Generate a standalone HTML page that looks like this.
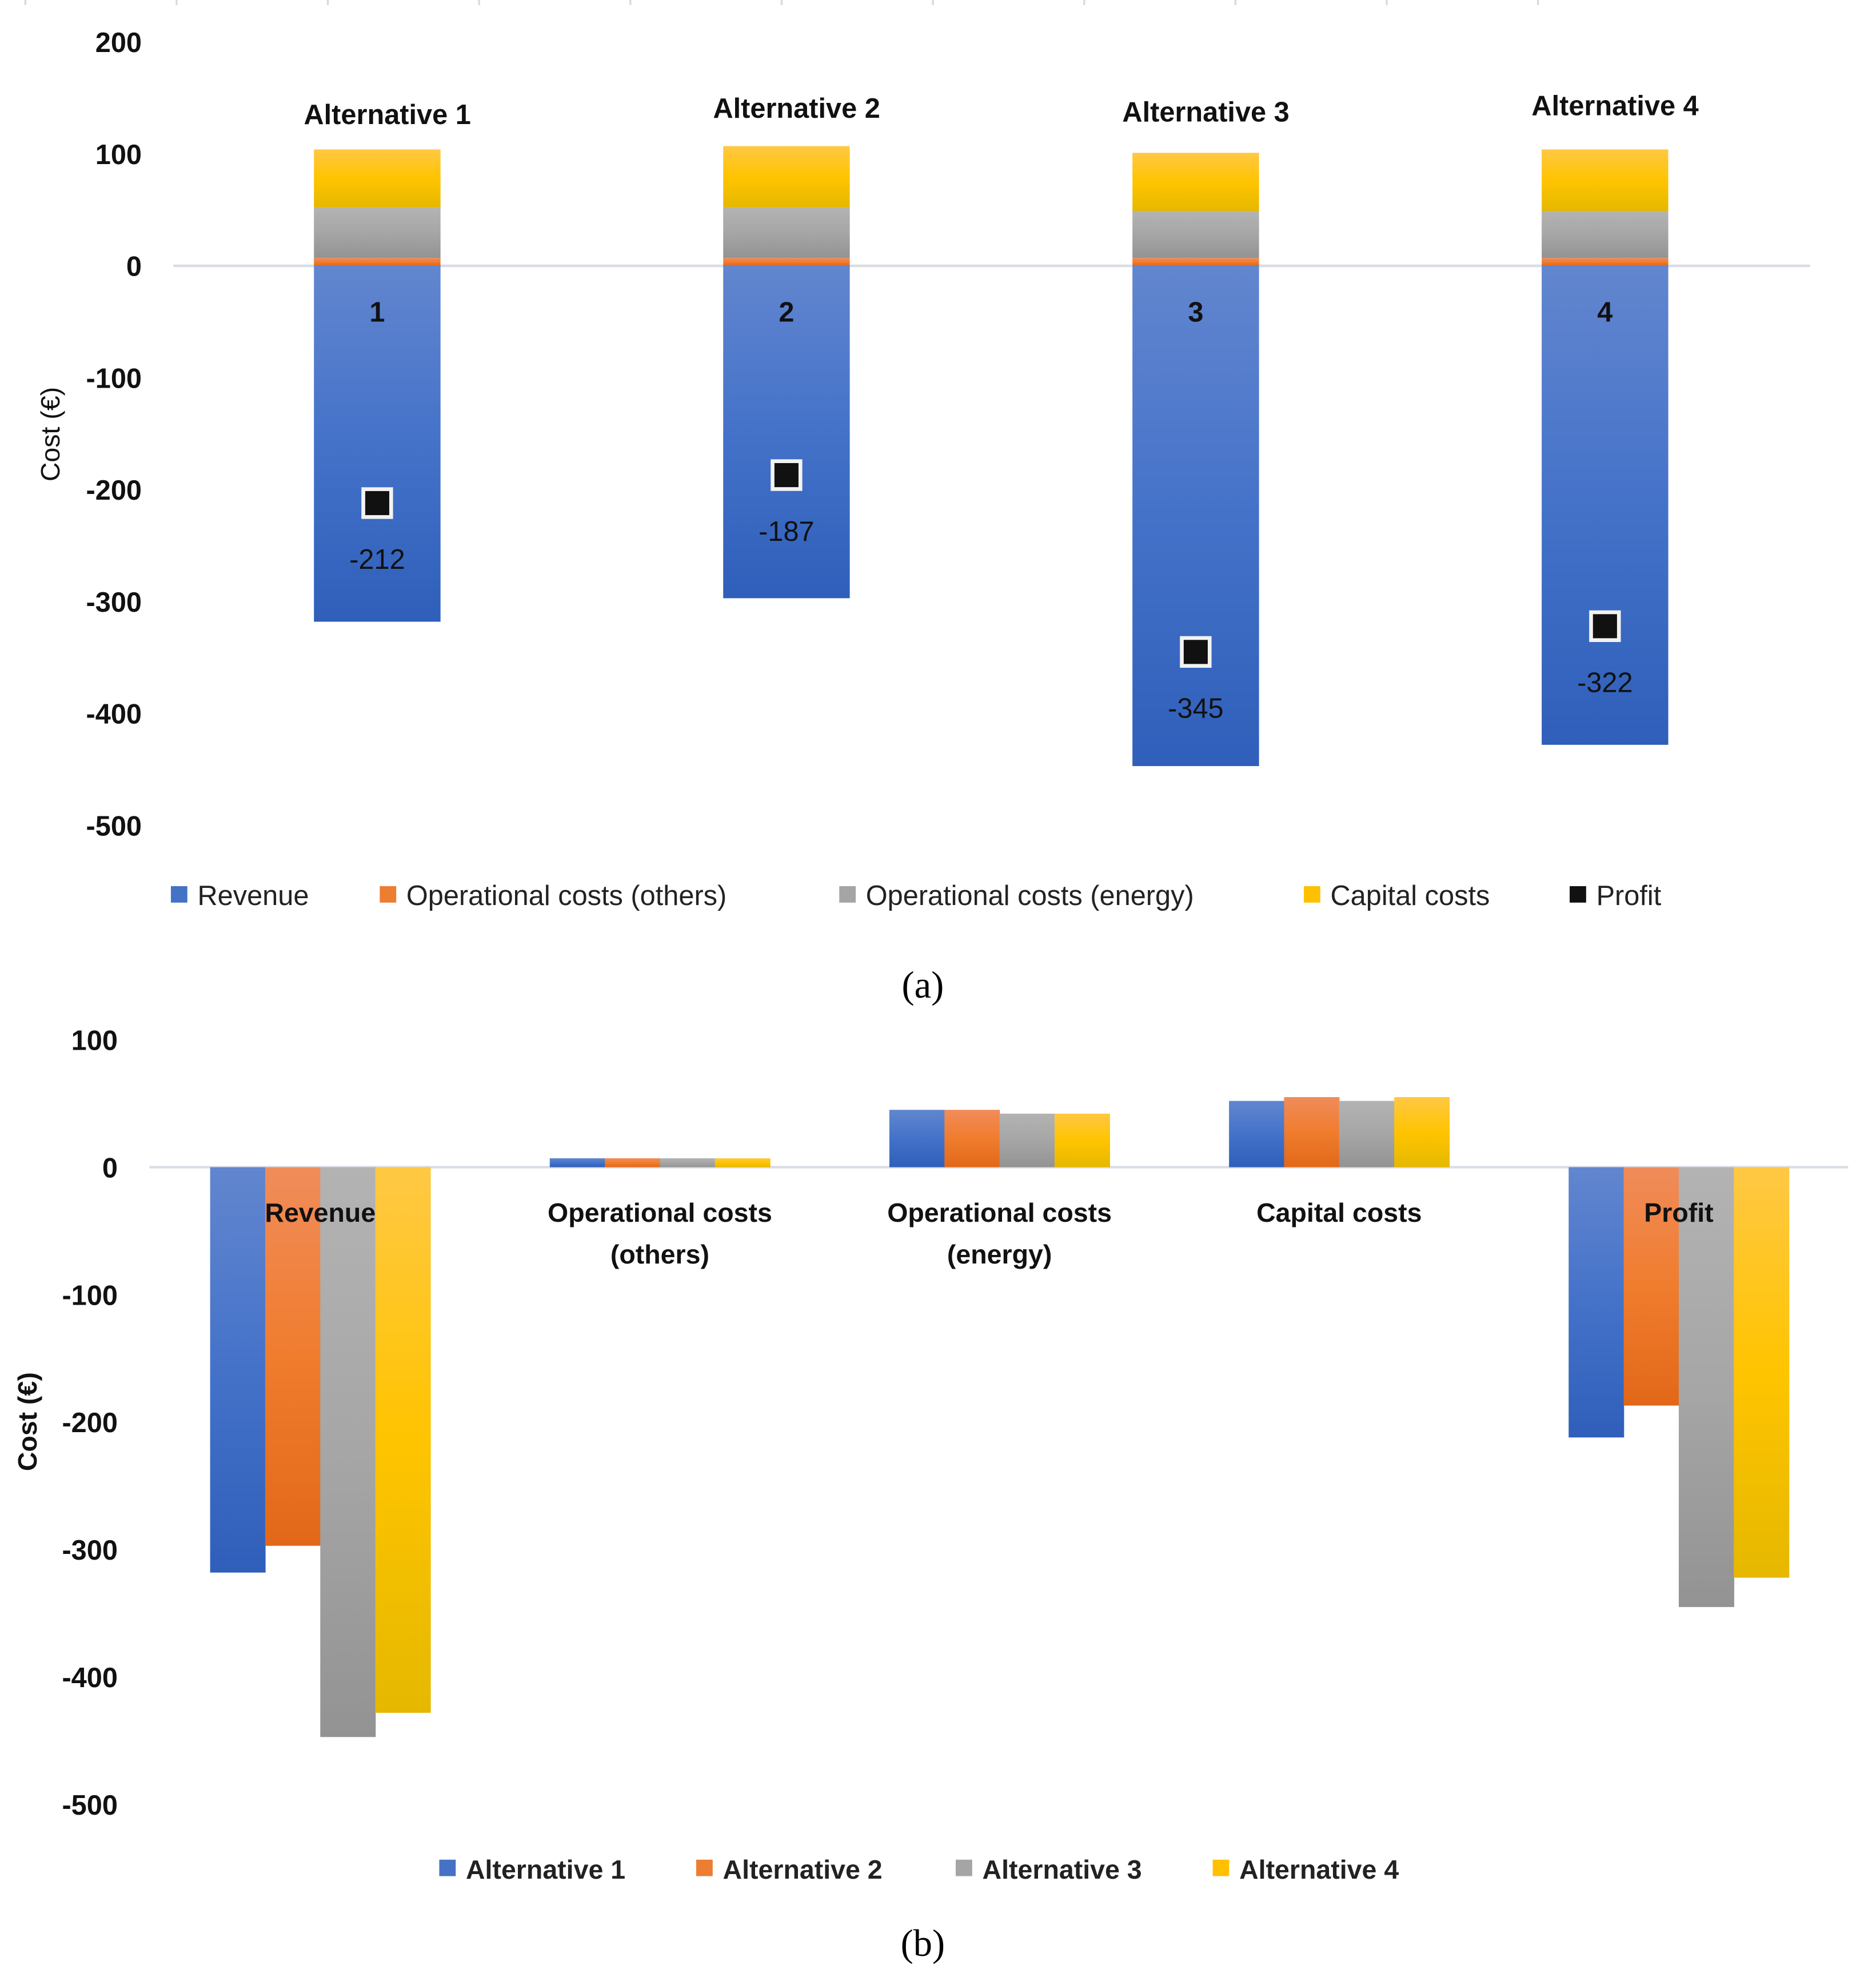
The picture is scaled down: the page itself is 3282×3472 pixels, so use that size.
<!DOCTYPE html>
<html><head><meta charset="utf-8">
<style>
html,body{margin:0;padding:0;background:#fff;}
svg{display:block;}
text{font-family:"Liberation Sans","DejaVu Sans",sans-serif;}
</style></head>
<body>
<svg id="fig" width="3282" height="3472" viewBox="0 0 1482 1568" preserveAspectRatio="none" xmlns="http://www.w3.org/2000/svg">
<defs>
<linearGradient id="gBlue" x1="0" y1="0" x2="0" y2="1"><stop offset="0" stop-color="#6286cf"/><stop offset="0.5" stop-color="#4472c9"/><stop offset="1" stop-color="#2f5fba"/></linearGradient>
<linearGradient id="gOrange" x1="0" y1="0" x2="0" y2="1"><stop offset="0" stop-color="#f08c5a"/><stop offset="0.5" stop-color="#f07c2e"/><stop offset="1" stop-color="#e26818"/></linearGradient>
<linearGradient id="gGray" x1="0" y1="0" x2="0" y2="1"><stop offset="0" stop-color="#b3b3b3"/><stop offset="0.5" stop-color="#a6a6a6"/><stop offset="1" stop-color="#939393"/></linearGradient>
<linearGradient id="gYellow" x1="0" y1="0" x2="0" y2="1"><stop offset="0" stop-color="#ffc844"/><stop offset="0.5" stop-color="#ffc400"/><stop offset="1" stop-color="#e5b800"/></linearGradient>
</defs>
<g id="chartA"></g>
<g id="chartB"></g>
<text x="729" y="788" text-anchor="middle" font-size="30" style="font-family:'Liberation Serif',serif">(a)</text>
<text x="729" y="1545" text-anchor="middle" font-size="30" style="font-family:'Liberation Serif',serif">(b)</text>
</svg>
<script>
const alternatives = ["Alternative 1","Alternative 2","Alternative 3","Alternative 4"];
const revenue = [-318,-297,-447,-428];
const opOthers = [7,7,7,7];
const opEnergy = [45,45,42,42];
const capital = [52,55,52,55];
const profit = [-212,-187,-345,-322];
const ticksA = [200,100,0,-100,-200,-300,-400,-500];
const ticksB = [100,0,-100,-200,-300,-400,-500];
const categoriesB = [["Revenue"],["Operational costs","(others)"],["Operational costs","(energy)"],["Capital costs"],["Profit"]];

const NS="http://www.w3.org/2000/svg";
function mk(tag, attrs, parent){const e=document.createElementNS(NS,tag);for(const k in attrs)e.setAttribute(k,attrs[k]);parent.appendChild(e);return e;}
const fills=["url(#gBlue)","url(#gOrange)","url(#gGray)","url(#gYellow)"];
const solid=["#4472c4","#ed7d31","#a5a5a5","#ffc000"];

// ---------- Chart A ----------
const A=document.getElementById('chartA');
const yA=v=>210-v*0.884;
const xA=i=>298+i*323.3;
const bwA=100;
for(let k=0;k<11;k++){const t=mk('line',{x1:20+k*119.5,x2:20+k*119.5,y1:0,y2:4,stroke:'#d9d9d9','stroke-width':1.5},A);

}
ticksA.forEach(v=>{const t=mk('text',{x:112,y:yA(v)+8,'text-anchor':'end','font-size':22,'font-weight':'bold',fill:'#111'},A);t.textContent=v;

});
const atA=mk('text',{x:0,y:0,transform:'translate(47,343) rotate(-90)','text-anchor':'middle','font-size':21,fill:'#111'},A);atA.textContent='Cost (€)';


const zl=mk('line',{x1:137,x2:1430,y1:yA(0),y2:yA(0),stroke:'#d9dde6','stroke-width':2},A);


const altLabelY=[90,85,88,83];
alternatives.forEach((name,i)=>{
  const cx=xA(i), x0=cx-bwA/2;
  const r=mk('rect',{x:x0,y:yA(0),width:bwA,height:yA(revenue[i])-yA(0),fill:fills[0]},A);
  
  
  let base=0;
  [[opOthers[i],1,'op-others-segment'],[opEnergy[i],2,'op-energy-segment'],[capital[i],3,'capital-segment']].forEach(([v,c,n])=>{
    const s=mk('rect',{x:x0,y:yA(base+v),width:bwA,height:yA(base)-yA(base+v),fill:fills[c]},A);
    
    
    base+=v;
  });
  const al=mk('text',{x:cx+8,y:altLabelY[i]+8,'text-anchor':'middle','font-size':22,'font-weight':'bold',fill:'#111'},A);al.textContent=name;
  
  
  const nl=mk('text',{x:cx,y:254,'text-anchor':'middle','font-size':22,'font-weight':'bold',fill:'#111'},A);nl.textContent=String(i+1);
  
  
  const py=yA(profit[i]);
  const m=mk('rect',{x:cx-11,y:py-11,width:22,height:22,fill:'#111',stroke:'#f2f2f2','stroke-width':3},A);
  
  
  const pl=mk('text',{x:cx,y:py+52,'text-anchor':'middle','font-size':22,fill:'#111'},A);pl.textContent=profit[i];
  
  
});
const legA=[["Revenue",135,solid[0]],["Operational costs (others)",300,solid[1]],["Operational costs (energy)",663,solid[2]],["Capital costs",1030,solid[3]],["Profit",1240,'#111']];
legA.forEach(([t,x,c])=>{
  const g=mk('g',{},A);
  
  
  mk('rect',{x:x,y:700,width:13,height:13,fill:c},g);
  const tx=mk('text',{x:x+21,y:715,'font-size':22,fill:'#222'},g);tx.textContent=t;
});

// ---------- Chart B ----------
const B=document.getElementById('chartB');
const yB=v=>922-v*1.007;
const gc=i=>253+i*268.3;
const bwB=43.5;
ticksB.forEach(v=>{const t=mk('text',{x:93,y:yB(v)+8,'text-anchor':'end','font-size':22,'font-weight':'bold',fill:'#111'},B);t.textContent=v;

});
const atB=mk('text',{x:0,y:0,transform:'translate(29,1123) rotate(-90)','text-anchor':'middle','font-size':21,'font-weight':'bold',fill:'#111'},B);atB.textContent='Cost (€)';


const zl2=mk('line',{x1:118,x2:1460,y1:yB(0),y2:yB(0),stroke:'#d9dde6','stroke-width':2},B);


const seriesB=[revenue,opOthers,opEnergy,capital,profit];
seriesB.forEach((vals,ci)=>{
  vals.forEach((v,ai)=>{
    const x=gc(ci)-2*bwB+ai*bwB;
    const y0=Math.min(yB(0),yB(v)), h=Math.abs(yB(v)-yB(0));
    const r=mk('rect',{x:x,y:y0,width:bwB+0.3,height:h,fill:fills[ai]},B);
    
    
  });
});
categoriesB.forEach((lines,ci)=>{
  lines.forEach((ln,li)=>{
    const t=mk('text',{x:gc(ci),y:965+li*33,'text-anchor':'middle','font-size':21,'font-weight':'bold',fill:'#111'},B);t.textContent=ln;
    
    
  });
});
const legBx=[347,550,755,958];
alternatives.forEach((t,i)=>{
  const g=mk('g',{},B);
  
  
  mk('rect',{x:legBx[i],y:1469,width:13,height:13,fill:solid[i]},g);
  const tx=mk('text',{x:legBx[i]+21,y:1484,'font-size':21,'font-weight':'bold',fill:'#222'},g);tx.textContent=t;
});
</script>
</body></html>
